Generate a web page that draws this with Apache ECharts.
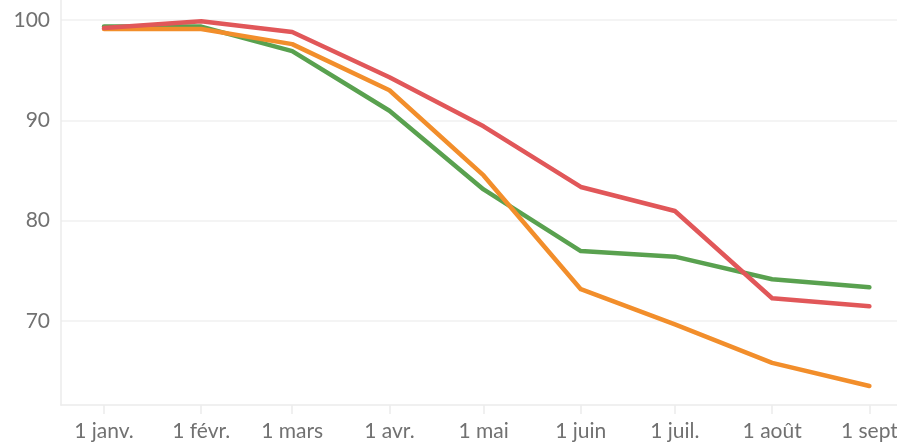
<!DOCTYPE html>
<html>
<head>
<meta charset="utf-8">
<script src="https://cdn.jsdelivr.net/npm/echarts@6/dist/echarts.min.js"></script>
<style>
  html, body { margin: 0; padding: 0; background: #fff; }
  #chart { width: 897px; height: 442px; }
</style>
</head>
<body>
<div id="chart"></div>
<script>
// month starts (days since 1 Jan 2020) and their labels
const monthDays = [0, 31, 60, 91, 121, 152, 182, 213, 244];
const monthLabels = ['1 janv.', '1 févr.', '1 mars', '1 avr.', '1 mai', '1 juin', '1 juil.', '1 août', '1 sept'];
const yTicks = [70, 80, 90, 100];

// values read per month
const greenValues = [99.35, 99.35, 96.9, 90.95, 83.1, 76.95, 76.4, 74.15, 73.35];
const orangeValues = [99.1, 99.1, 97.6, 93.0, 84.5, 73.15, 69.65, 65.8, 63.5];
const redValues = [99.2, 99.87, 98.8, 94.3, 89.4, 83.35, 80.95, 72.25, 71.45];

const toPoints = (vals) => vals.map((v, i) => [monthDays[i], v]);

const chart = echarts.init(document.getElementById('chart'));

const lineSeries = (vals, color) => ({
  type: 'line',
  data: toPoints(vals),
  symbol: 'none',
  lineStyle: { color: color, width: 4.5, cap: 'round', join: 'round' },
  animation: false
});

chart.setOption({
  backgroundColor: '#fff',
  // labels may run past the edge, as in the original
  grid: { left: 61, right: 0, top: 0, bottom: 37, outerBoundsMode: 'none', containLabel: false },
  xAxis: {
    type: 'value',
    min: -13.7,
    max: 252.8,
    axisLine: { show: true, onZero: false, lineStyle: { color: '#ebebeb', width: 1.5 } },
    axisTick: {
      show: true,
      customValues: monthDays,
      length: 9,
      lineStyle: { color: '#ebebeb', width: 1.5 }
    },
    axisLabel: {
      customValues: monthDays,
      margin: 16,
      color: '#717171',
      fontSize: 21,
      fontFamily: 'Lato',
      hideOverlap: false,
      formatter: (v) => monthLabels[monthDays.indexOf(v)]
    },
    splitLine: { show: false }
  },
  yAxis: {
    type: 'value',
    min: 61.6,
    max: 102,
    axisLine: { show: true, onZero: false, lineStyle: { color: '#ebebeb', width: 1.5 } },
    axisTick: { show: false, customValues: yTicks },
    axisLabel: {
      customValues: yTicks,
      margin: 11,
      color: '#717171',
      fontSize: 21,
      fontFamily: 'Lato'
    },
    splitLine: { show: true, lineStyle: { color: '#f0f0f0', width: 1.5 } }
  },
  series: [
    lineSeries(greenValues, '#59a14f'),
    lineSeries(orangeValues, '#f28e2b'),
    lineSeries(redValues, '#e15759')
  ]
});
</script>
</body>
</html>
